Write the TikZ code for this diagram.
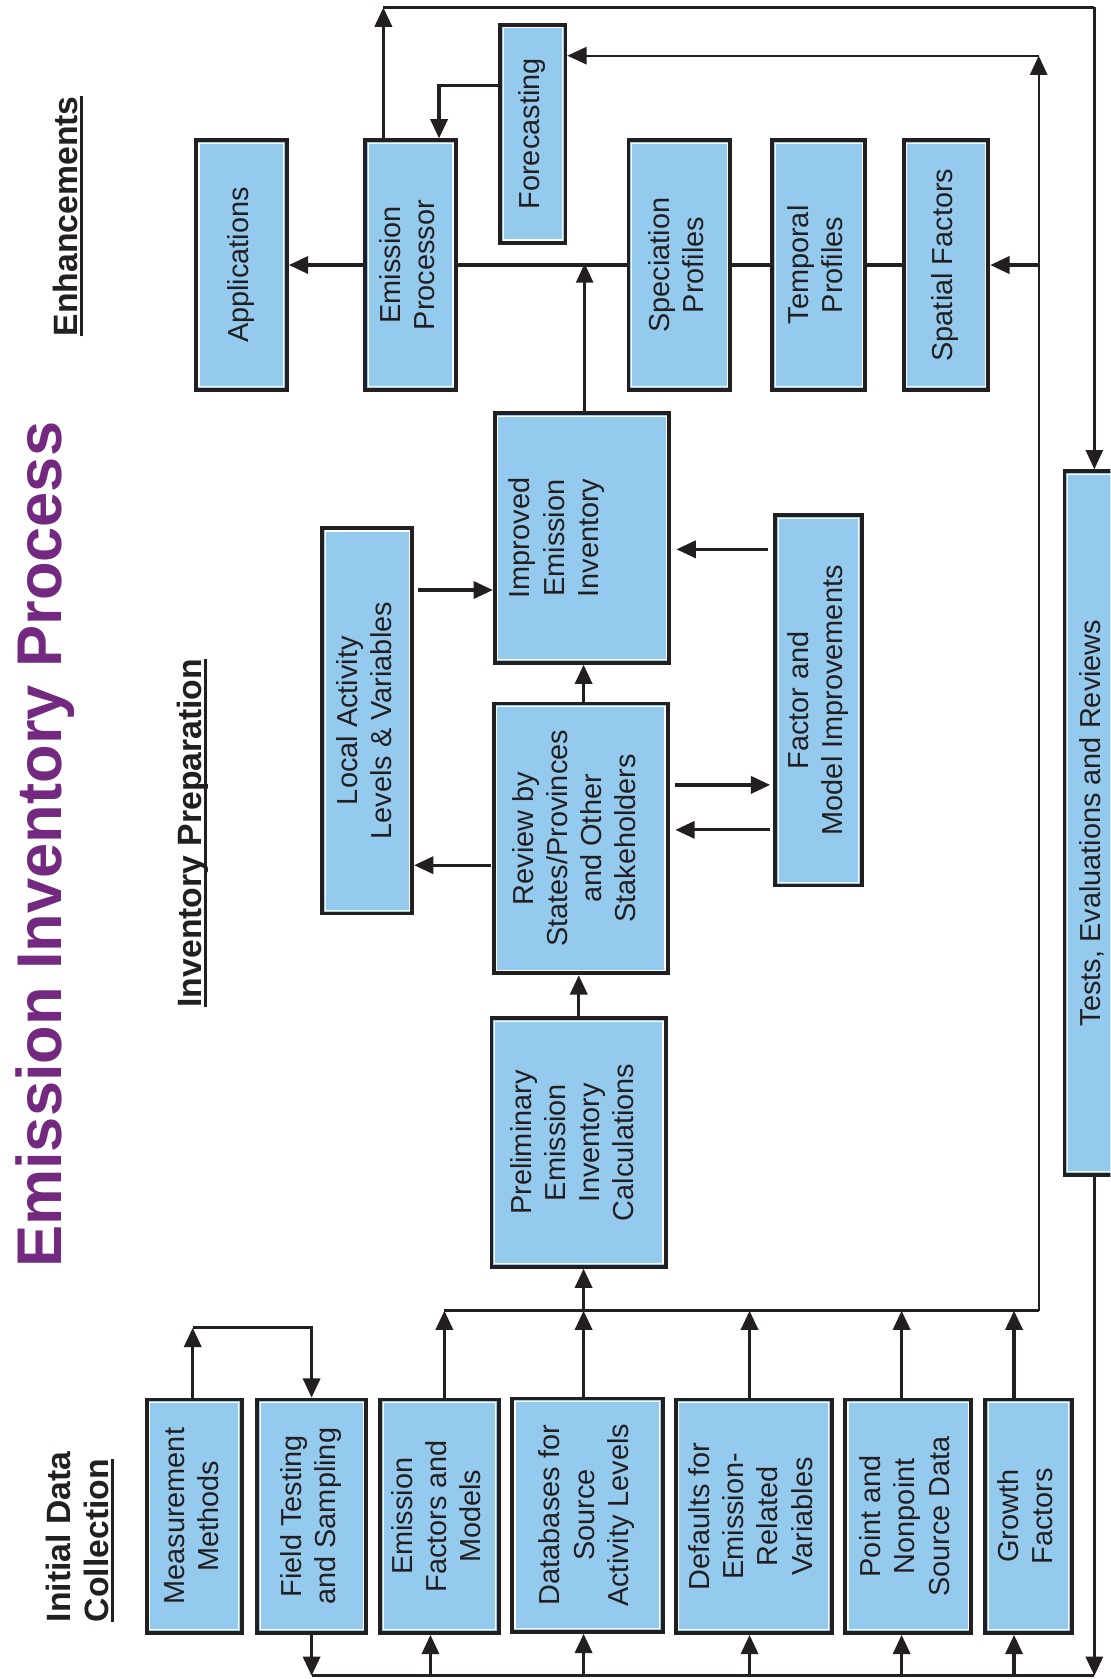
\documentclass[tikz,border=0pt]{standalone}
\usepackage{fontspec}
\usepackage{graphicx}
\setmainfont{Liberation Sans}
\usetikzlibrary{arrows.meta}
\definecolor{boxblue}{RGB}{148,202,238}
\definecolor{ink}{RGB}{35,31,32}
\definecolor{titlepurple}{RGB}{116,41,128}
\newcommand\myul[1]{\setbox0\hbox{#1}\rlap{\rule[-5.5pt]{\wd0}{2.6pt}}\box0}
\newcommand\rt[1]{\rotatebox{90}{\begin{tabular}{@{}c@{}}#1\end{tabular}}}
\tikzset{
  box/.style={draw=ink, line width=3.5pt, fill=boxblue, inner sep=0pt, text=ink,
    font=\fontsize{27}{32}\selectfont,
    path picture={\draw[white,line width=1.1pt]
      ([shift={(2.9pt,-2.9pt)}]path picture bounding box.north west) rectangle
      ([shift={(-2.9pt,2.9pt)}]path picture bounding box.south east);}},
  arr/.style={draw=ink, line width=3pt, -{Triangle[length=18pt,width=16pt]}},
  ln/.style={draw=ink, line width=3pt},
  thinln/.style={line width=2.2pt},
  hdr/.style={text=ink, font=\bfseries\fontsize{31.5}{36}\selectfont, inner sep=0pt},
}
\begin{document}
\begin{tikzpicture}[x=1pt,y=-1pt]
\useasboundingbox (0,0) rectangle (1037,1568);
\clip (0,0) rectangle (1037,1568);

% headers
\node[rotate=90, anchor=base, inner sep=0pt, text=titlepurple,
  font=\bfseries\fontsize{59}{62}\selectfont] (title) at (57,789) {Emission Inventory Process};
\node[hdr, rotate=90, anchor=base] (enh) at (72,202) {\myul{Enhancements}};
\node[hdr, rotate=90, anchor=base] (invprep) at (188,778) {\myul{Inventory Preparation}};
\node[hdr, rotate=90, anchor=base west] (init1) at (66,1515) {Initial Data};
\node[hdr, rotate=90, anchor=base west] (init2) at (101,1515) {\myul{Collection}};

% bottom row
\node[box, minimum width=89, minimum height=218] (meas) at (181.5,1416) {\rt{Measurement\\Methods}};
\node[box, minimum width=102, minimum height=218] (field) at (291,1416) {\rt{Field Testing\\and Sampling}};
\node[box, minimum width=111, minimum height=218] (efac) at (410.5,1416) {\rt{Emission\\Factors and\\Models}};
\node[box, minimum width=141, minimum height=218] (dbase) at (548.5,1415) {\rt{Databases for\\Source\\Activity Levels}};
\node[box, minimum width=146, minimum height=218] (deflt) at (704,1416) {\rt{Defaults for\\Emission-\\Related\\Variables}};
\node[box, minimum width=118, minimum height=218] (point) at (848,1416) {\rt{Point and\\Nonpoint\\Source Data}};
\node[box, minimum width=81, minimum height=218] (growth) at (960.5,1416) {\rt{Growth\\Factors}};

% middle
\node[box, minimum width=163, minimum height=232] (prelim) at (540.5,1067) {\rt{Preliminary\\Emission\\Inventory\\Calculations\\[6pt]}};
\node[box, minimum width=163, minimum height=252] (review) at (542.5,783) {\rt{Review by\\States/Provinces\\and Other\\Stakeholders\\[6pt]}};
\node[box, minimum width=163, minimum height=233] (improved) at (543.5,502.5) {\rt{Improved\\Emission\\Inventory\\[46pt]}};
\node[box, minimum width=84, minimum height=360] (local) at (343,673) {\rt{Local Activity\\Levels \& Variables}};
\node[box, minimum width=81, minimum height=346] (factor) at (764.5,654) {\rt{Factor and\\Model Improvements}};

% top row
\node[box, minimum width=85, minimum height=233] (apps) at (225.5,247.5) {\rt{Applications}};
\node[box, minimum width=85, minimum height=233] (proc) at (383.5,247.5) {\rt{Emission\\Processor}};
\node[box, minimum width=61, minimum height=204] (fore) at (497.5,125) {\rt{Forecasting}};
\node[box, minimum width=95, minimum height=233] (spec) at (634.5,247.5) {\rt{Speciation\\Profiles}};
\node[box, minimum width=87, minimum height=233] (temp) at (764.5,247.5) {\rt{Temporal\\Profiles}};
\node[box, minimum width=79, minimum height=233] (spat) at (883.5,247.5) {\rt{Spatial Factors}};
\node[box, minimum width=54, minimum height=657] (tests) at (1021,768.5) {\rt{Tests, Evaluations and Reviews}};

% helper coordinates
\coordinate (cA) at (180,1240);
\coordinate (cB) at (291,1240);
\coordinate (busBL) at (291,1565);
\coordinate (busB) at (1022,1565);
\coordinate (busTL) at (415,1224);
\coordinate (busT) at (970,1224);
\coordinate (cF) at (970,52);
\coordinate (cTop1) at (358,7);
\coordinate (cTop2) at (1022,7);
\coordinate (cFore) at (410,80);
\coordinate (jEP) at (546,246);
\coordinate (x402) at (402,0);
\coordinate (x545) at (545,0);
\coordinate (x546) at (546,0);
\coordinate (x700) at (700,0);
\coordinate (x842) at (842,0);
\coordinate (x947) at (947,0);
\coordinate (x180) at (180,0);
\coordinate (y808) at (0,808);
\coordinate (y551) at (0,551);
\coordinate (y733) at (0,733);
\coordinate (y775) at (0,775);
\coordinate (y513) at (0,513);

% initial data collection connectors
\draw[arr] (meas.north -| x180) -- (cA);
\draw[arr] (cA) -- (cB) -- (field.north);
\draw[arr] (field.south) -- (busBL);
\draw[ln] (busBL) -- (busB);
\draw[arr] (tests.south -| busB) -- (busB);
\draw[arr] (busBL -| x402) -- (efac.south -| x402);
\draw[arr] (busBL -| x545) -- (dbase.south -| x545);
\draw[arr] (busBL -| x700) -- (deflt.south -| x700);
\draw[arr] (busBL -| x842) -- (point.south -| x842);
\draw[arr] (busBL -| x947) -- (growth.south -| x947);

\draw[arr] (efac.north -| busTL) -- (busTL);
\draw[arr] (dbase.north -| x545) -- (busTL -| x545);
\draw[arr] (deflt.north -| x700) -- (busTL -| x700);
\draw[arr] (point.north -| x842) -- (busTL -| x842);
\draw[arr] (growth.north -| x947) -- (busTL -| x947);
\draw[ln] (busTL) -- (busT);
\draw[arr] (busTL -| x545) -- (prelim.south -| x545);
\draw[arr, thinln] (busT) -- (cF);
\draw[arr, thinln] (cF) -- (fore.east |- cF);
\draw[arr] (busT |- spat.east) -- (spat.east);

% inventory preparation connectors
\draw[arr] (prelim.north) -- (prelim.north |- review.south);
\draw[arr] (review.north -| x545) -- (improved.south -| x545);
\draw[arr, shorten <=1pt] (review.west |- y808) -- (local.east |- y808);
\draw[arr, shorten <=4pt] (local.east |- y551) -- (improved.west |- y551);
\draw[arr, shorten <=5pt, shorten >=3pt] (review.east |- y733) -- (factor.west |- y733);
\draw[arr, shorten <=3pt, shorten >=5pt] (factor.west |- y775) -- (review.east |- y775);
\draw[arr, shorten <=5pt, shorten >=5pt] (factor.west |- y513) -- (improved.east |- y513);
\draw[arr, thinln] (improved.north -| x546) -- (jEP);

% enhancements connectors
\draw[arr] (proc.west) -- (apps.east);
\draw[ln] (proc.east) -- (spec.west);
\draw[ln] (spec.east) -- (temp.west);
\draw[ln] (temp.east) -- (spat.west);
\draw[arr] (fore.west |- cFore) -- (cFore) -- (proc.north -| cFore);
\draw[arr] (proc.north -| cTop1) -- (cTop1);
\draw[ln, thinln] (cTop1) -- (cTop2);
\draw[arr, thinln] (cTop2) -- (tests.north -| cTop2);
\end{tikzpicture}
\end{document}
